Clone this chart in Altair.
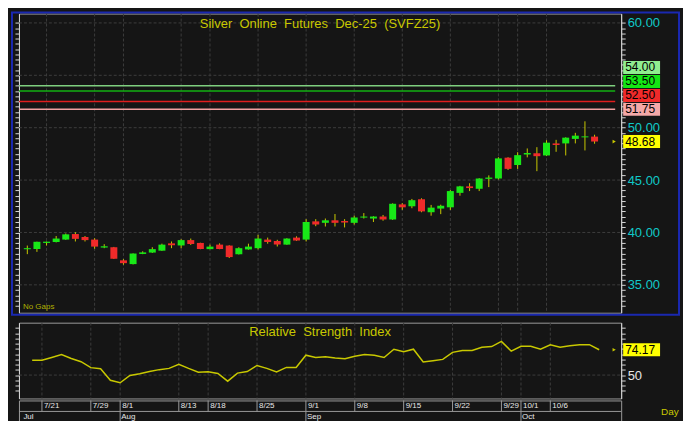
import altair as alt
import pandas as pd

# ---------------- data ----------------
TITLE = "Silver Online Futures Dec-25 (SVFZ25)"
RSI_TITLE = "Relative Strength Index"
NOTE = "No Gaps"
PERIOD_LABEL = "Day"

opens = [38.40, 38.42, 39.00, 39.09, 39.32, 39.85, 39.57, 39.32, 38.56, 38.59,
         37.34, 36.98, 37.95, 38.08, 38.26, 38.96, 38.76, 39.27, 39.00, 38.41,
         38.84, 38.75, 37.92, 38.38, 38.50, 39.32, 39.18, 38.84, 39.51, 39.32,
         41.06, 40.92, 41.16, 41.09, 40.92, 41.42, 41.33, 41.52, 41.24, 42.68,
         42.50, 43.17, 41.93, 42.28, 42.40, 43.78, 44.40, 44.17, 45.12, 45.15,
         47.14, 46.44, 47.44, 47.56, 47.35, 48.50, 48.50, 48.93, 49.08, 49.15]
highs = [38.75, 39.12, 39.13, 39.66, 39.90, 40.03, 39.66, 39.45, 38.88, 38.62,
         37.45, 38.00, 38.20, 38.59, 38.93, 39.14, 39.36, 39.42, 39.02, 38.84,
         38.96, 38.78, 38.59, 38.93, 39.78, 39.51, 39.30, 39.45, 39.63, 41.27,
         41.27, 41.33, 41.76, 41.27, 41.60, 41.85, 41.55, 41.67, 42.78, 42.80,
         43.20, 43.26, 42.63, 42.65, 44.04, 44.45, 44.70, 45.18, 45.45, 47.18,
         47.18, 47.66, 48.02, 48.14, 48.80, 48.84, 49.08, 49.51, 50.61, 49.33]
lows = [37.93, 38.15, 38.76, 39.05, 39.30, 39.14, 39.14, 38.45, 38.50, 37.47,
        36.92, 36.95, 37.93, 38.05, 38.24, 38.50, 38.50, 38.81, 38.40, 38.40,
        38.40, 37.56, 37.90, 38.36, 38.38, 38.93, 38.66, 38.82, 39.20, 39.14,
        40.60, 40.57, 40.57, 40.48, 40.75, 41.33, 41.00, 41.12, 41.20, 42.16,
        42.31, 41.93, 41.60, 41.75, 42.15, 43.51, 43.95, 43.95, 44.33, 45.06,
        45.97, 46.07, 47.17, 45.85, 47.30, 47.70, 47.35, 48.50, 47.83, 48.47]
closes = [38.50, 39.11, 39.12, 39.42, 39.82, 39.39, 39.27, 38.65, 38.68, 37.49,
          37.07, 37.99, 38.10, 38.41, 38.84, 38.78, 39.27, 38.90, 38.42, 38.65,
          38.42, 37.65, 38.50, 38.65, 39.42, 39.09, 38.84, 39.42, 39.23, 41.00,
          40.76, 41.16, 40.92, 40.95, 41.43, 41.52, 41.52, 41.24, 42.74, 42.40,
          43.08, 42.01, 42.37, 42.55, 43.95, 44.40, 44.24, 45.15, 45.24, 47.07,
          46.07, 47.38, 47.58, 47.28, 48.57, 48.35, 49.05, 49.24, 49.17, 48.68]
rsi_values = [None, 64.1, 64.1, 66.8, 69.6, 65.9, 62.8, 57.1, 56.1, 45.1,
              42.7, 49.7, 51.3, 53.4, 55.2, 56.4, 60.4, 56.4, 52.8, 53.1,
              51.6, 44.2, 51.9, 53.4, 59.2, 56.4, 53.1, 57.3, 57.3, 69.0,
              66.8, 67.4, 66.2, 65.6, 68.0, 69.6, 69.0, 66.8, 74.7, 72.3,
              74.7, 62.5, 63.7, 65.0, 71.7, 73.5, 73.5, 76.6, 77.2, 82.1,
              72.9, 77.5, 77.5, 74.7, 79.0, 76.6, 78.1, 79.0, 79.0, 74.17]

tick_idx = [2, 7, 10, 16, 19, 24, 29, 34, 39, 44, 49, 51, 54]
tick_labels = ["7/21", "7/29", "8/1", "8/13", "8/18", "8/25", "9/1", "9/8",
               "9/15", "9/22", "9/29", "10/1", "10/6"]
month_idx = [0, 10, 29, 51]
month_labels = ["Jul", "Aug", "Sep", "Oct"]

price_grid = [35, 40, 45, 50, 55, 60]
level_values = [54.00, 53.50, 52.50, 51.75]
level_line_colors = ["#7fcf7f", "#12b012", "#e01e1e", "#f0a0a0"]
level_box_colors = ["#90ee90", "#14e614", "#f02a2a", "#f4a8a8"]
last_price = 48.68
last_rsi = 74.17
rsi_grid = [50]

# ---------------- layout / style ----------------
W, H_MAIN, H_RSI, H_DATE = 604, 300, 76, 22
P_MIN, P_MAX = 32.34, 60.89
R_MIN, R_MAX = 27.7, 100.0
X_MIN, X_MAX = -0.35, 61.25
BOX_H = 14

BG = "#151515"
GRID = "#3c3c3c"
WICK = "#c8c800"
UP = "#18e818"
DOWN = "#f02a2a"
CYAN = "#10c8c8"
YEL = "#c8c800"
AX = "#d8d8d8"
BLUE = "#1a28b0"
FONT = "Liberation Sans"

xs = alt.Scale(domain=[X_MIN, X_MAX], nice=False, zero=False)
ys = alt.Scale(domain=[P_MIN, P_MAX], nice=False, zero=False)
rs = alt.Scale(domain=[R_MIN, R_MAX], nice=False, zero=False)

n = len(opens)
df = pd.DataFrame({"i": list(range(n)), "open": opens, "high": highs,
                   "low": lows, "close": closes, "rsi": rsi_values})
df["dir"] = ["up" if c >= o else "down" for o, c in zip(opens, closes)]

ticks_df = pd.DataFrame({"i": tick_idx, "label": tick_labels})
months_df = pd.DataFrame({"i": month_idx, "label": month_labels})
pgrid_df = pd.DataFrame({"v": price_grid})
rgrid_df = pd.DataFrame({"v": rsi_grid})

# stacked label boxes for the levels (pushed upward to avoid overlap)
pxu = H_MAIN / (P_MAX - P_MIN)
order = sorted(range(len(level_values)), key=lambda k: level_values[k])
centers = {}
prev = None
for k in order:
    py = (P_MAX - level_values[k]) * pxu
    if prev is not None:
        py = min(py, prev - BOX_H)
    centers[k] = py
    prev = py
lev_df = pd.DataFrame({
    "v": level_values,
    "text": [f"{v:.2f}" for v in level_values],
    "line": level_line_colors,
    "box": level_box_colors,
    "yc": [P_MAX - centers[k] / pxu for k in range(len(level_values))],
    "y1": [P_MAX - (centers[k] - BOX_H / 2 + 0.5) / pxu for k in range(len(level_values))],
    "y2": [P_MAX - (centers[k] + BOX_H / 2 - 0.5) / pxu for k in range(len(level_values))],
})
last_df = pd.DataFrame({"v": [last_price], "text": [f"{last_price:.2f}"],
                        "y1": [last_price + (BOX_H / 2 - 0.5) / pxu],
                        "y2": [last_price - (BOX_H / 2 - 0.5) / pxu]})
rpxu = H_RSI / (R_MAX - R_MIN)
last_rsi_df = pd.DataFrame({"v": [last_rsi], "text": [f"{last_rsi:.2f}"],
                            "y1": [last_rsi + (BOX_H / 2 - 0.5) / rpxu],
                            "y2": [last_rsi - (BOX_H / 2 - 0.5) / rpxu]})
wide = lambda s: s.replace(" ", "\u00a0 ")
title_df = pd.DataFrame({"t": [wide(TITLE)]})
rsi_title_df = pd.DataFrame({"t": [wide(RSI_TITLE)]})
note_df = pd.DataFrame({"t": [NOTE]})
period_df = pd.DataFrame({"t": [PERIOD_LABEL]})

half_ticks = [k / 2 for k in range(66, 121)]
rsi_ticks = list(range(35, 96, 5))

def yax(orient, values, expr=None, color=CYAN):
    kw = dict(orient=orient, values=values, tickSize=4, tickColor=AX,
              domainColor=AX, grid=False, title=None, labelOverlap=False,
              labelFlush=False)
    if expr is None:
        kw["labels"] = False
    else:
        kw.update(labelExpr=expr, labelColor=color, labelFont=FONT,
                  labelFontSize=13, labelPadding=2)
    return alt.Axis(**kw)

X = alt.X("i:Q", scale=xs, axis=None)

# ---------------- main panel ----------------
hgrid = alt.Chart(pgrid_df).mark_rule(color=GRID, strokeDash=[3, 2]).encode(
    y=alt.Y("v:Q", scale=ys, axis=None), x=alt.value(0), x2=alt.value(W))
vgrid = alt.Chart(ticks_df).mark_rule(color=GRID, strokeDash=[3, 2]).encode(
    x=X, y=alt.value(0), y2=alt.value(H_MAIN))
levels = alt.Chart(lev_df).mark_rule(strokeWidth=1.5).encode(
    y=alt.Y("v:Q", scale=ys, axis=None), x=alt.value(0), x2=alt.value(W - 6),
    color=alt.Color("line:N", scale=None))
wicks = alt.Chart(df).mark_rule(color=WICK, strokeWidth=1).encode(
    x=X,
    y=alt.Y("low:Q", scale=ys, axis=yax("left", half_ticks)),
    y2="high:Q")
bodies = alt.Chart(df).mark_bar(size=7).encode(
    x=X,
    y=alt.Y("open:Q", scale=ys, axis=yax(
        "right", half_ticks,
        "(datum.value % 5 == 0 && datum.value != 55) ? format(datum.value, '.2f') : ''")),
    y2="close:Q",
    color=alt.Color("dir:N", scale=alt.Scale(domain=["up", "down"], range=[UP, DOWN]),
                    legend=None))
title_t = alt.Chart(title_df).mark_text(font=FONT, fontSize=13, color=YEL,
                                        baseline="middle").encode(
    x=alt.value(W / 2), y=alt.value(10), text="t:N")
note_t = alt.Chart(note_df).mark_text(font=FONT, fontSize=8, color="#b0b000",
                                      align="left", baseline="middle").encode(
    x=alt.value(4), y=alt.value(H_MAIN - 6), text="t:N")
lab_rect = alt.Chart(lev_df).mark_rect().encode(
    x=alt.value(W + 2), x2=alt.value(W + 39),
    y=alt.Y("y1:Q", scale=ys, axis=None), y2="y2:Q",
    color=alt.Color("box:N", scale=None))
lab_text = alt.Chart(lev_df).mark_text(font=FONT, fontSize=12, color="#000000",
                                       align="left", baseline="middle").encode(
    x=alt.value(W + 4), y=alt.Y("yc:Q", scale=ys, axis=None), text="text:N")
last_rect = alt.Chart(last_df).mark_rect(color="#ffff00").encode(
    x=alt.value(W + 2), x2=alt.value(W + 39),
    y=alt.Y("y1:Q", scale=ys, axis=None), y2="y2:Q")
last_text = alt.Chart(last_df).mark_text(font=FONT, fontSize=12, color="#000000",
                                         align="left", baseline="middle").encode(
    x=alt.value(W + 4), y=alt.Y("v:Q", scale=ys, axis=None), text="text:N")
last_mark = alt.Chart(last_df).mark_point(shape="triangle-right", filled=True,
                                          size=14, color=YEL, opacity=1).encode(
    x=alt.value(W - 7), y=alt.Y("v:Q", scale=ys, axis=None))
frame = alt.Chart(note_df).mark_rect(filled=False, stroke=BLUE, strokeWidth=2).encode(
    x=alt.value(-7), x2=alt.value(W + 58), y=alt.value(-1), y2=alt.value(H_MAIN + 2))

main = alt.layer(hgrid, vgrid, levels, wicks, bodies, title_t, note_t,
                 lab_rect, lab_text, last_rect, last_text, last_mark, frame
                 ).resolve_axis(y="independent").properties(width=W, height=H_MAIN)

# ---------------- RSI panel ----------------
r_hgrid = alt.Chart(rgrid_df).mark_rule(color=GRID, strokeDash=[3, 2]).encode(
    y=alt.Y("v:Q", scale=rs, axis=yax("left", rsi_ticks)), x=alt.value(0), x2=alt.value(W))
r_vgrid = alt.Chart(ticks_df).mark_rule(color=GRID, strokeDash=[3, 2]).encode(
    x=X, y=alt.value(0), y2=alt.value(H_RSI))
r_line = alt.Chart(df).mark_line(color=YEL, strokeWidth=1.5).encode(
    x=X, y=alt.Y("rsi:Q", scale=rs, axis=yax(
        "right", rsi_ticks, "datum.value == 50 ? '50' : ''", color="#e6e6e6")))
r_title = alt.Chart(rsi_title_df).mark_text(font=FONT, fontSize=13, color=YEL,
                                            baseline="middle").encode(
    x=alt.value(W / 2), y=alt.value(9), text="t:N")
r_rect = alt.Chart(last_rsi_df).mark_rect(color="#ffff00").encode(
    x=alt.value(W + 2), x2=alt.value(W + 39),
    y=alt.Y("y1:Q", scale=rs, axis=None), y2="y2:Q")
r_text = alt.Chart(last_rsi_df).mark_text(font=FONT, fontSize=12, color="#000000",
                                          align="left", baseline="middle").encode(
    x=alt.value(W + 4), y=alt.Y("v:Q", scale=rs, axis=None), text="text:N")
r_mark = alt.Chart(last_rsi_df).mark_point(shape="triangle-right", filled=True,
                                           size=14, color=YEL, opacity=1).encode(
    x=alt.value(W - 7), y=alt.Y("v:Q", scale=rs, axis=None))

rsi_c = alt.layer(r_hgrid, r_vgrid, r_line, r_title, r_rect, r_text, r_mark
                  ).resolve_axis(y="independent").properties(width=W, height=H_RSI)

# ---------------- date rows ----------------
SEP = "#9a9a9a"
d_rules = alt.Chart(ticks_df).mark_rule(color=SEP).encode(
    x=X, y=alt.value(0), y2=alt.value(11))
d_text = alt.Chart(ticks_df).mark_text(font=FONT, fontSize=8, color="#e8e8e8",
                                       align="left", baseline="middle", dx=2).encode(
    x=X, y=alt.value(6), text="label:N")
d_sep = alt.Chart(period_df).mark_rule(color=SEP).encode(
    x=alt.value(0), x2=alt.value(W), y=alt.value(11))
m_rules = alt.Chart(months_df).transform_filter("datum.i > 0").mark_rule(color=SEP).encode(
    x=X, y=alt.value(11), y2=alt.value(H_DATE))
m_text = alt.Chart(months_df).mark_text(font=FONT, fontSize=8, color="#e8e8e8",
                                        align="left", baseline="middle", dx=1).encode(
    x=X, y=alt.value(17), text="label:N")
p_text = alt.Chart(period_df).mark_text(font=FONT, fontSize=10, color=YEL,
                                        align="left", baseline="middle").encode(
    x=alt.value(W + 40), y=alt.value(12), text="t:N")

date_c = alt.layer(d_rules, d_text, d_sep, m_rules, m_text, p_text
                   ).properties(width=W, height=H_DATE)

chart = alt.vconcat(main, alt.vconcat(rsi_c, date_c, spacing=0), spacing=4).properties(
    background=BG, padding={"left": 2, "top": 2, "right": 2, "bottom": 2}
).configure_view(stroke="#9a9a9a", strokeWidth=1, fill=BG)

chart.save("out.html", embed_options={"renderer": "svg", "actions": False})
